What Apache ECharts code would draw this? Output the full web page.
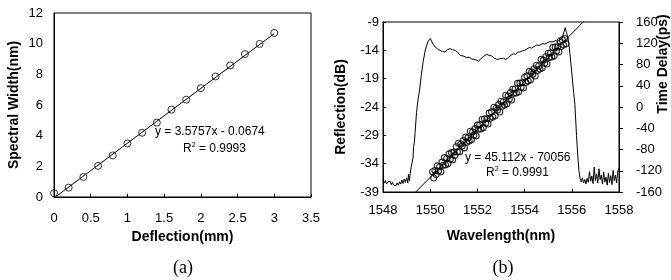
<!DOCTYPE html>
<html>
<head>
<meta charset="utf-8">
<style>
  html, body { margin: 0; padding: 0; background: #fff; }
  #chart { width: 671px; height: 280px; }
</style>
<script src="https://cdn.jsdelivr.net/npm/echarts@6/dist/echarts.min.js"></script>
</head>
<body>
<div id="chart"></div>
<script>
// (a) 偏移量 - 谱宽
var deflection = [0, 0.2, 0.4, 0.6, 0.8, 1.0, 1.2, 1.4, 1.6, 1.8, 2.0, 2.2, 2.4, 2.6, 2.8, 3.0];
var spectralWidth = [0.25, 0.61, 1.31, 2.03, 2.71, 3.49, 4.19, 4.85, 5.7, 6.35, 7.1, 7.86, 8.58, 9.32, 9.98, 10.7];
var fitA = { slope: 3.5757, intercept: -0.0674, from: 0, to: 3.0 };

// (b) 反射谱
var reflWl = [1548.00, 1548.05, 1548.10, 1548.15, 1548.20, 1548.25, 1548.30, 1548.35, 1548.40, 1548.45,
  1548.50, 1548.55, 1548.60, 1548.65, 1548.70, 1548.75, 1548.80, 1548.85, 1548.90, 1548.95,
  1549.00, 1549.05, 1549.08, 1549.12, 1549.15,
  1549.20, 1549.27, 1549.30, 1549.33, 1549.36, 1549.42, 1549.48, 1549.55, 1549.62, 1549.70, 1549.80, 1549.90, 1550.00,
  1550.05, 1550.12, 1550.21, 1550.30, 1550.42, 1550.52, 1550.63, 1550.72, 1550.85, 1550.95,
  1551.06, 1551.15, 1551.27, 1551.40, 1551.55, 1551.65, 1551.75, 1551.83, 1551.95, 1552.04,
  1552.12, 1552.25, 1552.39, 1552.50, 1552.61, 1552.72, 1552.82, 1552.95, 1553.10, 1553.20,
  1553.31, 1553.42, 1553.52, 1553.62, 1553.70, 1553.80, 1553.90, 1554.00, 1554.08, 1554.20,
  1554.30, 1554.37, 1554.50, 1554.56, 1554.65, 1554.75, 1554.85, 1554.93, 1555.05, 1555.12,
  1555.21, 1555.30, 1555.40, 1555.49, 1555.58, 1555.63, 1555.68, 1555.72, 1555.77, 1555.82, 1555.86,
  1555.92, 1556.00, 1556.08, 1556.13, 1556.20, 1556.26, 1556.30, 1556.35,
  1556.40, 1556.45, 1556.50, 1556.55, 1556.60, 1556.65, 1556.70, 1556.75, 1556.80, 1556.85,
  1556.90, 1556.95, 1557.00, 1557.05, 1557.10, 1557.15, 1557.20, 1557.25, 1557.30, 1557.35,
  1557.40, 1557.45, 1557.50, 1557.55, 1557.60, 1557.65, 1557.70, 1557.75, 1557.80, 1557.85,
  1557.90, 1557.95, 1558.00];
var reflDb = [-36.8, -37.4, -37.0, -37.6, -37.2, -37.5, -37.1, -37.7, -37.3, -37.8,
  -37.6, -37.9, -37.4, -37.8, -37.2, -37.6, -36.9, -37.5, -36.7, -37.3,
  -36.5, -37.4, -35.9, -37.0, -35.8,
  -34.5, -33.0, -31.0, -30.2, -28.5, -25.0, -22.8, -21.0, -18.5, -16.0, -13.8, -12.5, -11.9,
  -12.2, -12.9, -13.4, -13.7, -14.0, -14.2, -14.3, -13.9, -13.7, -13.9,
  -14.0, -14.3, -14.9, -15.0, -15.3, -15.2, -15.5, -15.4, -15.7, -15.9,
  -15.6, -15.1, -14.7, -14.9, -15.0, -15.4, -15.6, -15.5, -15.4, -15.6,
  -15.3, -14.9, -14.6, -14.7, -14.3, -14.3, -14.1, -14.0, -13.9, -13.5,
  -13.6, -13.4, -13.1, -13.3, -13.1, -12.8, -12.9, -12.7, -12.5, -12.7,
  -12.5, -12.3, -12.4, -12.2, -11.9, -11.6, -10.6, -10.0, -10.8, -11.4, -12.3,
  -14.5, -18.0, -21.5, -23.5, -29.0, -33.0, -35.2, -36.6,
  -37.2, -36.5, -37.4, -36.8, -37.6, -36.6, -37.3, -35.4, -37.1, -36.2,
  -37.5, -34.6, -37.0, -35.8, -37.4, -34.9, -36.8, -36.0, -37.6, -35.5,
  -37.2, -36.4, -37.8, -35.7, -37.3, -36.1, -37.7, -35.2, -37.0, -36.0,
  -37.4, -35.3, -34.8];

// (b) 时延
var delayWl = [1550.10, 1550.15, 1550.20, 1550.25, 1550.30, 1550.35, 1550.40, 1550.45, 1550.50, 1550.55,
  1550.60, 1550.65, 1550.70, 1550.75, 1550.80, 1550.85, 1550.90, 1550.95, 1551.00, 1551.05,
  1551.10, 1551.15, 1551.20, 1551.25, 1551.30, 1551.35, 1551.40, 1551.45, 1551.50, 1551.55,
  1551.60, 1551.65, 1551.70, 1551.75, 1551.80, 1551.85, 1551.90, 1551.95, 1552.00, 1552.05,
  1552.10, 1552.15, 1552.20, 1552.25, 1552.30, 1552.35, 1552.40, 1552.45, 1552.50, 1552.55,
  1552.60, 1552.65, 1552.70, 1552.75, 1552.80, 1552.85, 1552.90, 1552.95, 1553.00, 1553.05,
  1553.10, 1553.15, 1553.20, 1553.25, 1553.30, 1553.35, 1553.40, 1553.45, 1553.50, 1553.55,
  1553.60, 1553.65, 1553.70, 1553.75, 1553.80, 1553.85, 1553.90, 1553.95, 1554.00, 1554.05,
  1554.10, 1554.15, 1554.20, 1554.25, 1554.30, 1554.35, 1554.40, 1554.45, 1554.50, 1554.55,
  1554.60, 1554.65, 1554.70, 1554.75, 1554.80, 1554.85, 1554.90, 1554.95, 1555.00, 1555.05,
  1555.10, 1555.15, 1555.20, 1555.25, 1555.30, 1555.35, 1555.40, 1555.45, 1555.50, 1555.55,
  1555.60, 1555.65, 1555.70, 1555.75];
var delayPs = [-121.9, -133.6, -119.4, -127.1, -110.9, -120.6, -112.4, -122.1, -103.8, -109.6,
  -95.3, -109.1, -96.8, -106.6, -88.3, -98.1, -85.8, -99.6, -85.3, -91.1,
  -74.8, -84.5, -68.3, -84.0, -69.7, -73.5, -63.2, -77.0, -56.7, -66.5,
  -58.2, -64.0, -45.7, -61.5, -47.2, -53.0, -40.7, -54.4, -34.2, -41.9,
  -33.6, -41.4, -23.1, -38.9, -22.6, -30.4, -22.1, -31.9, -11.6, -21.4,
  -9.1, -18.9, -0.6, -16.4, -2.1, -5.9, 4.4, -9.3, 10.9, 1.2,
  9.5, 3.7, 22.0, 6.2, 20.5, 14.7, 27.0, 13.2, 33.5, 25.7,
  34.0, 26.3, 44.5, 28.8, 45.0, 37.3, 45.6, 35.8, 56.1, 46.3,
  58.6, 48.8, 67.1, 51.3, 65.6, 61.8, 72.1, 58.4, 78.6, 68.9,
  77.1, 71.4, 89.7, 73.9, 88.2, 82.4, 94.7, 80.9, 101.2, 93.4,
  101.7, 94.0, 112.2, 96.5, 112.7, 105.0, 113.2, 103.5, 123.8, 114.0,
  126.3, 116.5, 128.8, 119.1];
var fitB = { slope: 45.112, intercept: -70056, from: 1549, to: 1557 };

var reflTicks = [-39, -34, -29, -24, -19, -14, -9];

function zip(xs, ys) {
    var out = [];
    for (var i = 0; i < xs.length; i++) out.push([xs[i], ys[i]]);
    return out;
}
function fitLine(f) {
    return [[f.from, f.slope * f.from + f.intercept], [f.to, f.slope * f.to + f.intercept]];
}

var FONT = 'Arial, "Liberation Sans", sans-serif';
var labelStyle = { color: '#000', fontSize: 13, fontFamily: FONT };
var nameStyle = { color: '#000', fontSize: 14, fontWeight: 'bold', fontFamily: FONT };
var lineStyle = { color: '#000', width: 1 };
var plain = function (v) { return String(v); };

var chart = echarts.init(document.getElementById('chart'));
var option = {
    backgroundColor: '#fff',
    animation: false,
    grid: [
        { left: 54, right: 360, top: 13, bottom: 83, show: true, borderColor: '#000', borderWidth: 1 },
        { left: 383, right: 52, top: 22, bottom: 88, show: true, borderColor: '#000', borderWidth: 1 }
    ],
    xAxis: [
        {
            gridIndex: 0, type: 'value', min: 0, max: 3.5, interval: 0.5,
            name: 'Deflection(mm)', nameLocation: 'middle', nameGap: 33, nameTextStyle: nameStyle,
            axisLine: { onZero: false, lineStyle: lineStyle }, axisTick: { inside: true, length: 3, lineStyle: lineStyle },
            axisLabel: Object.assign({ margin: 15, formatter: plain }, labelStyle), splitLine: { show: false }
        },
        {
            gridIndex: 1, type: 'value', min: 1548, max: 1558, interval: 2,
            name: 'Wavelength(nm)', nameLocation: 'middle', nameGap: 37, nameTextStyle: nameStyle,
            axisLine: { onZero: false, lineStyle: lineStyle }, axisTick: { inside: true, length: 3, lineStyle: lineStyle },
            axisLabel: Object.assign({ margin: 12, formatter: plain }, labelStyle), splitLine: { show: false }
        }
    ],
    yAxis: [
        {
            gridIndex: 0, type: 'value', min: 0, max: 12, interval: 2,
            name: 'Spectral Width(nm)', nameLocation: 'middle', nameGap: 33, nameTextStyle: nameStyle,
            axisLine: { onZero: false, lineStyle: lineStyle }, axisTick: { show: false },
            axisLabel: Object.assign({ margin: 11 }, labelStyle), splitLine: { show: false }
        },
        {
            gridIndex: 1, type: 'value', min: -39, max: -9,
            name: 'Reflection(dB)', nameLocation: 'middle', nameGap: 35, nameTextStyle: nameStyle,
            axisLine: { onZero: false, lineStyle: lineStyle },
            axisTick: { inside: true, length: 3, lineStyle: lineStyle, customValues: reflTicks },
            axisLabel: Object.assign({ margin: 4, customValues: reflTicks }, labelStyle), splitLine: { show: false }
        },
        {
            gridIndex: 1, type: 'value', position: 'right', min: -160, max: 160, interval: 40,
            axisLine: { show: true, onZero: false, lineStyle: lineStyle },
            axisTick: { show: true, length: 4, lineStyle: lineStyle },
            axisLabel: Object.assign({ margin: 17 }, labelStyle), splitLine: { show: false }
        }
    ],
    graphic: [
        { type: 'text', left: 155, top: 126, style: { text: 'y = 3.5757x - 0.0674', fill: '#000', font: '12px ' + FONT } },
        { type: 'text', left: 183, top: 142, style: { text: 'R{s|2} = 0.9993', fill: '#000', font: '12px ' + FONT,
            rich: { s: { fontSize: 7, verticalAlign: 'top', padding: [0, 0, 6, 0] } } } },
        { type: 'text', left: 465, top: 152, style: { text: 'y = 45.112x - 70056', fill: '#000', font: '12px ' + FONT } },
        { type: 'text', left: 486, top: 166, style: { text: 'R{s|2} = 0.9991', fill: '#000', font: '12px ' + FONT,
            rich: { s: { fontSize: 7, verticalAlign: 'top', padding: [0, 0, 6, 0] } } } },
        { type: 'text', x: 663, y: 64, rotation: Math.PI / 2,
            style: { text: 'Time Delay(ps)', fill: '#000', font: 'bold 14px ' + FONT, align: 'center', verticalAlign: 'middle' } },
        { type: 'text', x: 183, y: 268, style: { text: '(a)', fill: '#000', font: '18px "Liberation Serif", "Times New Roman", serif', align: 'center', verticalAlign: 'middle' } },
        { type: 'text', x: 503, y: 268, style: { text: '(b)', fill: '#000', font: '18px "Liberation Serif", "Times New Roman", serif', align: 'center', verticalAlign: 'middle' } }
    ],
    series: [
        {
            type: 'line', xAxisIndex: 0, yAxisIndex: 0, data: fitLine(fitA),
            symbol: 'none', lineStyle: lineStyle, z: 2
        },
        {
            type: 'scatter', xAxisIndex: 0, yAxisIndex: 0, data: zip(deflection, spectralWidth),
            symbol: 'circle', symbolSize: 7,
            itemStyle: { color: 'rgba(0,0,0,0)', borderColor: '#000', borderWidth: 1 }, z: 3
        },
        {
            type: 'line', xAxisIndex: 1, yAxisIndex: 1, data: zip(reflWl, reflDb),
            symbol: 'none', lineStyle: lineStyle, z: 2
        },
        {
            type: 'scatter', xAxisIndex: 1, yAxisIndex: 2, data: zip(delayWl, delayPs),
            symbol: 'circle', symbolSize: 6,
            itemStyle: { color: 'rgba(0,0,0,0)', borderColor: '#000', borderWidth: 1.1 }, z: 3
        },
        {
            type: 'line', xAxisIndex: 1, yAxisIndex: 2, data: fitLine(fitB),
            symbol: 'none', lineStyle: lineStyle, clip: true, z: 2
        }
    ]
};
chart.setOption(option);
window.onresize = function () {
    chart.resize();
};
</script>
</body>
</html>
